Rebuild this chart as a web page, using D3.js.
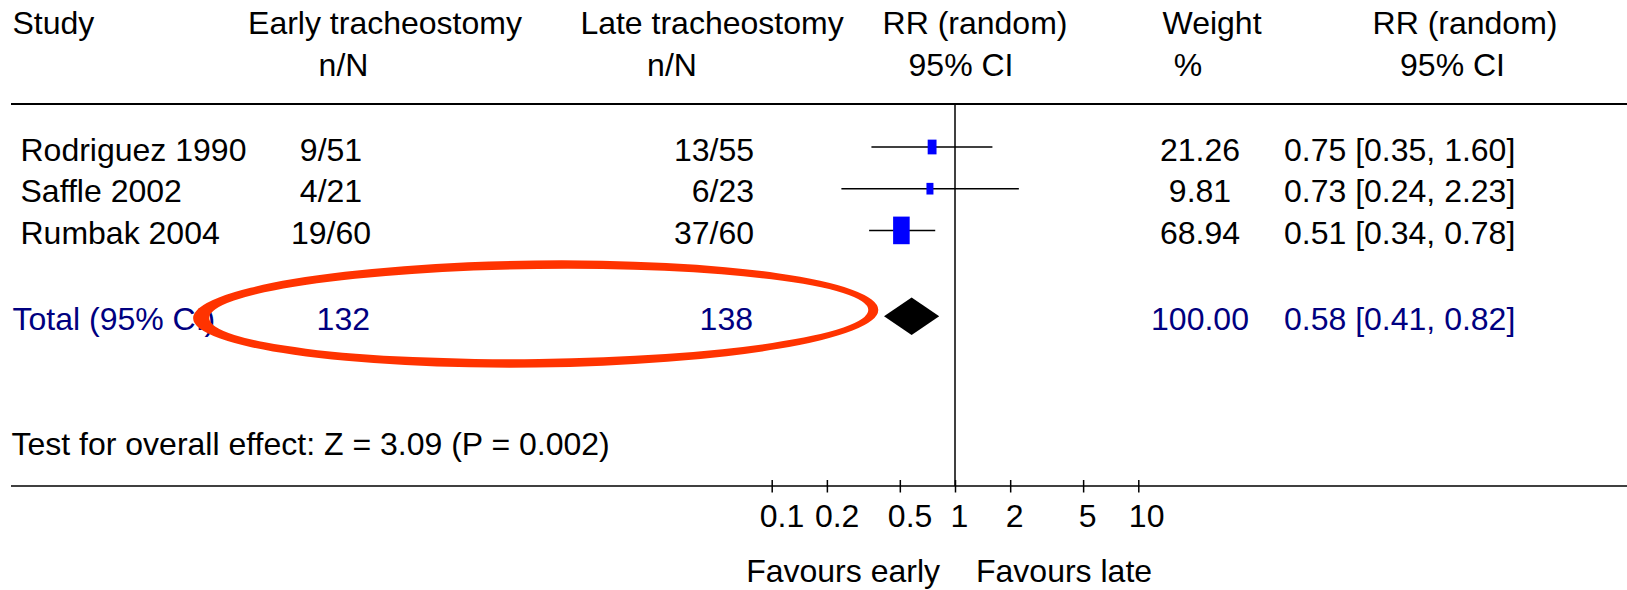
<!DOCTYPE html>
<html>
<head>
<meta charset="utf-8">
<script src="https://cdn.jsdelivr.net/npm/d3@7"></script>
<style>
  html, body { margin: 0; padding: 0; background: #fff; }
  svg { display: block; }
  text { font-family: "Liberation Sans", Arial, Helvetica, sans-serif; }
</style>
</head>
<body>
<svg id="chart" width="1627" height="590"></svg>
<script>
// ---- Study data: early vs late tracheostomy (mortality, risk ratio) ----
const studies      = ["Rodriguez 1990", "Saffle 2002", "Rumbak 2004"];
const earlyEvents  = [9, 4, 19];
const earlyTotals  = [51, 21, 60];
const lateEvents   = [13, 6, 37];
const lateTotals   = [55, 23, 60];
const riskRatios   = [0.75, 0.73, 0.51];
const ciLower      = [0.35, 0.24, 0.34];
const ciUpper      = [1.60, 2.23, 0.78];
const weights      = [21.26, 9.81, 68.94];

// pooled (random effects) result
const totalLabel   = "Total (95% CI)";
const totalEarly   = 132;
const totalLate    = 138;
const totalWeight  = 100.00;
const totalRR      = 0.58;
const totalLower   = 0.41;
const totalUpper   = 0.82;
const overallTest  = "Test for overall effect: Z = 3.09 (P = 0.002)";

// axis
const tickValues   = [0.1, 0.2, 0.5, 1, 2, 5, 10];
const tickLabels   = ["0.1", "0.2", "0.5", "1", "2", "5", "10"];
const favourLeft   = "Favours early";
const favourRight  = "Favours late";

// column headings (two lines each)
const headLine1 = ["Study", "Early tracheostomy", "Late tracheostomy", "RR (random)", "Weight", "RR (random)"];
const headLine2 = ["", "n/N", "n/N", "95% CI", "%", "95% CI"];

// ---- layout ----
const W = 1627, H = 590;
const FS = 32;            // font size
const SX = 1.0;           // horizontal text stretch
const NAVY = "#000080";
const svg = d3.select("#chart");

const x = d3.scaleLog().domain([0.1, 10]).range([771.7, 1138.3]);
const rowBase = d3.scaleLinear().domain([0, 1]).range([160.5, 202.2]);
const totalBase = 329.5;
const topRule = 104, axisY = 486;

const f2 = d3.format(".2f");
const ciText = (m, lo, hi) => `${f2(m)} [${f2(lo)}, ${f2(hi)}]`;

function label(text, px, py, anchor, color) {
  return svg.append("text")
    .attr("transform", `translate(${px},${py}) scale(${SX},1)`)
    .attr("text-anchor", anchor || "start")
    .attr("fill", color || "#000")
    .style("font-size", FS + "px")
    .text(text);
}

// ---- headings ----
const head1X = [12.5, 385, 712, 975, 1212, 1465];
const head2X = [12.5, 343.5, 672, 961, 1188, 1452.5];
headLine1.forEach((t, i) => label(t, head1X[i], 34, i === 0 ? "start" : "middle"));
headLine2.forEach((t, i) => { if (t) label(t, head2X[i], 76, "middle"); });

// ---- rules ----
svg.append("line").attr("x1", 11).attr("x2", W).attr("y1", topRule).attr("y2", topRule)
  .attr("stroke", "#000").attr("stroke-width", 2);

// line of no effect
svg.append("line").attr("x1", x(1)).attr("x2", x(1)).attr("y1", topRule).attr("y2", axisY)
  .attr("stroke", "#000").attr("stroke-width", 1.5);

// ---- study rows ----
const boxH = d3.scaleLinear().domain([0, 100]).range([9, 36]);
studies.forEach((s, i) => {
  const yb = rowBase(i);
  const yc = yb - 13.5;
  label(s, 20.5, yb, "start");
  label(`${earlyEvents[i]}/${earlyTotals[i]}`, 331, yb, "middle");
  label(`${lateEvents[i]}/${lateTotals[i]}`, 754, yb, "end");
  label(f2(weights[i]), 1200, yb, "middle");
  label(ciText(riskRatios[i], ciLower[i], ciUpper[i]), 1284, yb, "start");

  svg.append("line")
    .attr("x1", x(ciLower[i])).attr("x2", x(ciUpper[i]))
    .attr("y1", yc).attr("y2", yc)
    .attr("stroke", "#000").attr("stroke-width", 1.5);
  const h = boxH(weights[i]);
  const w = h * 0.6;
  svg.append("rect")
    .attr("x", x(riskRatios[i]) - w / 2).attr("y", yc - h / 2)
    .attr("width", w).attr("height", h)
    .attr("fill", "#0000ff");
});

// ---- pooled row ----
label(totalLabel, 12.5, totalBase, "start", NAVY);
label(String(totalEarly), 343.3, totalBase, "middle", NAVY);
label(String(totalLate), 753, totalBase, "end", NAVY);
label(f2(totalWeight), 1200, totalBase, "middle", NAVY);
label(ciText(totalRR, totalLower, totalUpper), 1284, totalBase, "start", NAVY);

const dy = totalBase - 13.2, dh = 18.8;
svg.append("path")
  .attr("d", `M${x(totalLower)},${dy} L${x(totalRR)},${dy - dh} L${x(totalUpper)},${dy} L${x(totalRR)},${dy + dh} Z`)
  .attr("fill", "#000");

// ---- overall effect ----
label(overallTest, 11.5, 455, "start");

// ---- bottom axis ----
svg.append("line").attr("x1", 11).attr("x2", W).attr("y1", axisY).attr("y2", axisY)
  .attr("stroke", "#000").attr("stroke-width", 1.5);

const axis = d3.axisBottom(x)
  .tickValues(tickValues)
  .tickFormat((d, i) => tickLabels[i])
  .tickSize(6.5);
const ag = svg.append("g").attr("transform", `translate(0,${axisY})`).call(axis);
ag.select(".domain").remove();
ag.selectAll(".tick line").attr("y1", -6).attr("stroke", "#000").attr("stroke-width", 1.5);
ag.selectAll(".tick text")
  .attr("fill", "#000")
  .style("font-size", FS + "px")
  .style("font-family", '"Liberation Sans", Arial, sans-serif')
  .attr("y", null).attr("dy", null)
  .attr("text-anchor", "start")
  .each(function () {
    const w = this.getComputedTextLength() * SX;
    d3.select(this).attr("transform", `translate(${-0.28 * w},40.5) scale(${SX},1)`);
  });

label(favourLeft, x(1) - 15, 582, "end");
label(favourRight, x(1) + 21, 582, "start");

// ---- highlight ring around the pooled totals ----
const ring = (cx, cy, rx, ry) =>
  `M${cx - rx},${cy} a${rx},${ry} 0 1,0 ${2 * rx},0 a${rx},${ry} 0 1,0 ${-2 * rx},0 Z`;
svg.append("path")
  .attr("d", ring(535.7, 314, 342.6, 53.5) + ring(538.7, 314, 329.6, 45))
  .attr("fill", "#ff3300")
  .attr("fill-rule", "evenodd")
  .attr("transform", "rotate(-0.7,535.7,314)");
</script>
</body>
</html>
